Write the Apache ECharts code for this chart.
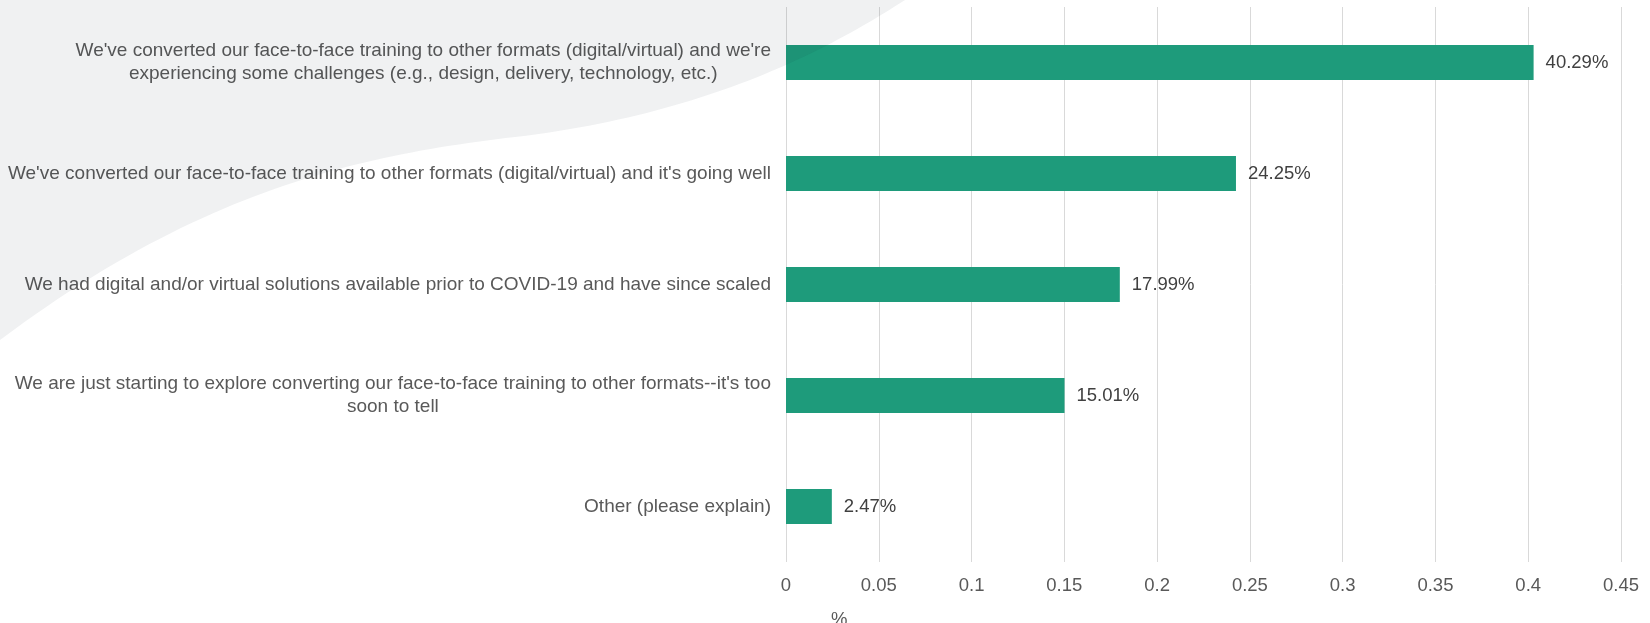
<!DOCTYPE html>
<html>
<head>
<meta charset="utf-8">
<script src="https://cdn.jsdelivr.net/npm/echarts@6/dist/echarts.min.js"></script>
<style>
html,body{margin:0;padding:0;background:#ffffff;}
#chart{width:1650px;height:623px;}
</style>
</head>
<body>
<div id="chart"></div>
<script>
// Data
const categories = [
  "We've converted our face-to-face training to other formats (digital/virtual) and we're\nexperiencing some challenges (e.g., design, delivery, technology, etc.)",
  "We've converted our face-to-face training to other formats (digital/virtual) and it's going well",
  "We had digital and/or virtual solutions available prior to COVID-19 and have since scaled",
  "We are just starting to explore converting our face-to-face training to other formats--it's too\nsoon to tell",
  "Other (please explain)"
];
const values = [0.4029, 0.2425, 0.1799, 0.1501, 0.0247];
const xTicks = { min: 0, max: 0.45, interval: 0.05 };
const axisTitle = "%";

const FONT = "'Liberation Sans', Arial, sans-serif";
const FS = 18.5;
const FS_CAT = 19;

// decorative background swoosh (two cubic bezier segments sampled into a polygon)
function cubic(p0, p1, p2, p3, n, out) {
  for (let i = 0; i <= n; i++) {
    const t = i / n, u = 1 - t;
    out.push([
      u*u*u*p0[0] + 3*u*u*t*p1[0] + 3*u*t*t*p2[0] + t*t*t*p3[0],
      u*u*u*p0[1] + 3*u*u*t*p1[1] + 3*u*t*t*p2[1] + t*t*t*p3[1]
    ]);
  }
}
const swoosh = [[0, 0]];
cubic([905, 0], [820, 55], [700, 115], [515, 137], 50, swoosh);
cubic([515, 137], [360, 155], [200, 190], [0, 340], 50, swoosh);

const chart = echarts.init(document.getElementById('chart'), null, { renderer: 'canvas' });

chart.setOption({
  backgroundColor: '#ffffff',
  animation: false,
  textStyle: { fontFamily: FONT },
  graphic: [
    {
      type: 'polygon',
      z: 100,
      silent: true,
      shape: { points: swoosh },
      style: { fill: 'rgba(20,30,50,0.062)' }
    },
    {
      type: 'text',
      left: 831,
      top: 610,
      style: { text: axisTitle, fill: '#595959', font: FS + 'px ' + FONT }
    }
  ],
  grid: { left: 786, right: 29, top: 7, bottom: 61, containLabel: false },
  xAxis: {
    type: 'value',
    min: xTicks.min,
    max: xTicks.max,
    interval: xTicks.interval,
    axisLine: { show: false },
    axisTick: { show: false },
    splitLine: { show: true, lineStyle: { color: '#d9d9d9', width: 1 } },
    axisLabel: { color: '#595959', fontSize: FS, margin: 14, fontFamily: FONT }
  },
  yAxis: {
    type: 'category',
    inverse: true,
    data: categories,
    axisLine: { show: false },
    axisTick: { show: false },
    splitLine: { show: false },
    axisLabel: {
      color: '#595959',
      fontSize: FS_CAT,
      margin: 15,
      align: 'right',
      lineHeight: 22.5,
      fontFamily: FONT,
      formatter: function (v) {
        return v.split('\n').map(function (l) { return '{c|' + l + '}'; }).join('\n');
      },
      rich: {
        c: { align: 'center', color: '#595959', fontSize: FS_CAT, lineHeight: 22.5, fontFamily: FONT }
      }
    }
  },
  series: [{
    type: 'bar',
    data: values,
    barWidth: 35,
    itemStyle: { color: '#1e9b7b' },
    label: {
      show: true,
      position: 'right',
      distance: 12,
      color: '#404040',
      fontSize: FS,
      fontFamily: FONT,
      formatter: function (p) { return (p.value * 100).toFixed(2) + '%'; }
    }
  }]
});
</script>
</body>
</html>
